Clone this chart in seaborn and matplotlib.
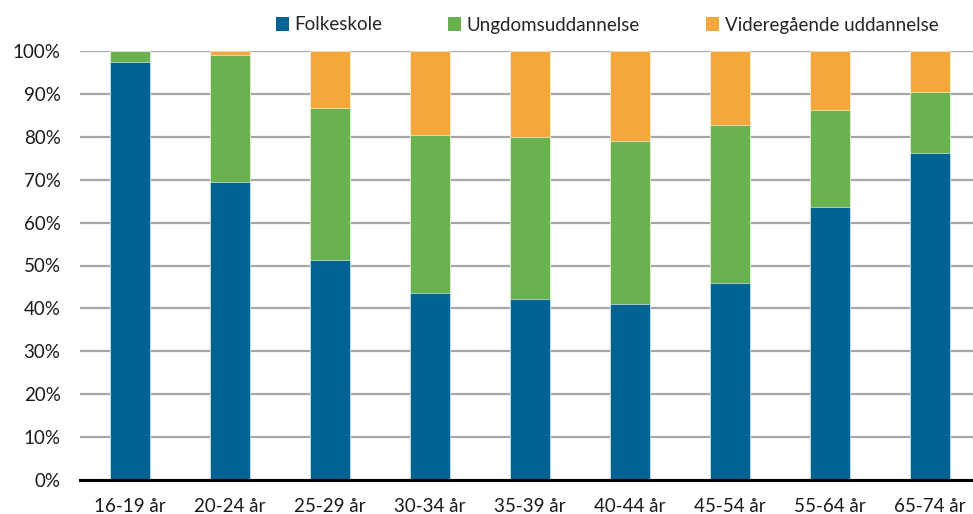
import numpy as np
import pandas as pd
import matplotlib
matplotlib.use("Agg")
import matplotlib.pyplot as plt
import seaborn as sns
from matplotlib.patches import Patch

# --- data (percent) ---
age_groups = ["16-19 år", "20-24 år", "25-29 år", "30-34 år", "35-39 år",
              "40-44 år", "45-54 år", "55-64 år", "65-74 år"]
folkeskole = [97.5, 69.4, 51.2, 43.7, 42.1, 41.0, 46.0, 63.6, 76.3]
ungdom = [2.5, 29.7, 35.6, 36.7, 37.8, 38.0, 36.7, 22.6, 14.2]
videregaaende = [0.0, 0.9, 13.2, 19.6, 20.1, 21.0, 17.3, 13.8, 9.5]

series_names = ["Folkeskole", "Ungdomsuddannelse", "Videregående uddannelse"]
colors = ["#006391", "#6AB150", "#F4A83A"]

sns.set_theme(style="white")
plt.rcParams["font.family"] = ["Lato", "DejaVu Sans"]

df = pd.DataFrame({"age": age_groups,
                   "Folkeskole": folkeskole,
                   "Ungdomsuddannelse": ungdom,
                   "Videregående uddannelse": videregaaende})
# cumulative tops, drawn tallest first so each layer sits on the one below
cum = df[series_names].cumsum(axis=1)

fig = plt.figure(figsize=(9.73, 5.14), dpi=100)
ax = fig.add_axes([80 / 973, 1 - 480 / 514, 1 - 80 / 973, (480 - 51) / 514])

for name, col in reversed(list(zip(series_names, colors))):
    sns.barplot(x=df["age"], y=cum[name], color=col, width=0.4,
                saturation=1, edgecolor="white", linewidth=0.4, ax=ax, zorder=3)

ax.set_ylim(0, 100)
ax.set_xlim(-0.5, 8.43)
ax.set_yticks(np.arange(0, 101, 10))
ax.set_yticklabels([f"{v}%" for v in range(0, 101, 10)], fontsize=13.5, color="#1a1a1a")
ax.tick_params(axis="x", labelsize=13.5, colors="#1a1a1a", pad=13, length=0)
ax.tick_params(axis="y", length=0, pad=14)
ax.set_xlabel("")
ax.set_ylabel("")
ax.yaxis.grid(True, color="#A6A6A6", linewidth=1.6, zorder=0)
ax.set_axisbelow(True)
for s in ["top", "right", "left"]:
    ax.spines[s].set_visible(False)
ax.spines["bottom"].set_color("black")
ax.spines["bottom"].set_linewidth(2.2)
ax.spines["bottom"].set_zorder(5)

handles = [Patch(facecolor=c, edgecolor="none") for c in colors]
fig.legend(handles, series_names, loc="center", bbox_to_anchor=(607 / 973, 1 - 25 / 514),
           ncol=3, frameon=False, fontsize=13.5, handlelength=0.7, handleheight=0.7,
           handletextpad=0.3, columnspacing=3.5)

fig.savefig("out.png", dpi=100)
